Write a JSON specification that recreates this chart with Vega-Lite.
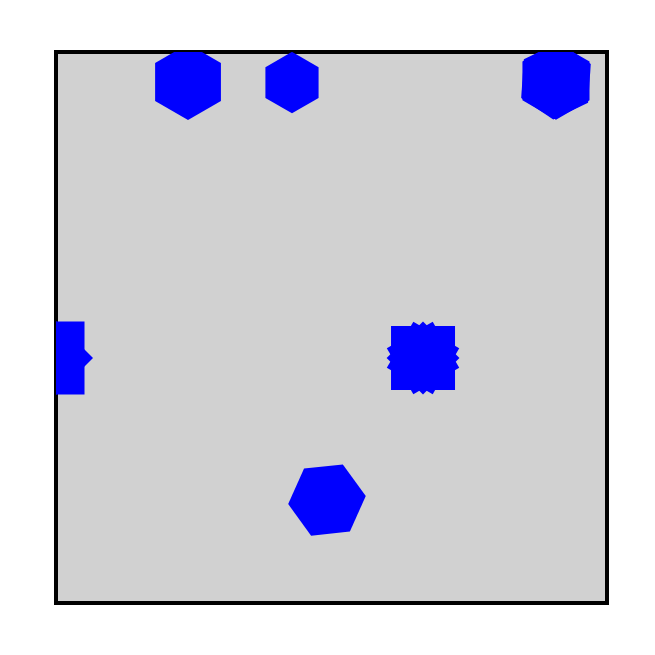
{
  "$schema": "https://vega.github.io/schema/vega-lite/v6.json",
  "width": 551,
  "height": 551,
  "autosize": {"type": "none"},
  "padding": {"left": 56, "top": 52, "right": 48, "bottom": 52},
  "background": "white",
  "config": {"view": {"stroke": "black", "strokeWidth": 4, "fill": "#d1d1d1"}},
  "data": {"values": [
    {"x": 0.2396, "y": 0.9456, "kind": "hexagon", "magnitude": 5776, "rotation": 0},
    {"x": 0.4283, "y": 0.9446, "kind": "hexagon", "magnitude": 3770, "rotation": 0},
    {"x": 0.9074, "y": 0.9474, "kind": "hexagon", "magnitude": 6000, "rotation": 0},
    {"x": 0.9074, "y": 0.9474, "kind": "hexagon", "magnitude": 6000, "rotation": 4},
    {"x": -0.0145, "y": 0.4446, "kind": "square", "magnitude": 5329, "rotation": 0},
    {"x": -0.0145, "y": 0.4446, "kind": "diamond", "magnitude": 8100, "rotation": 0},
    {"x": 0.6661, "y": 0.4446, "kind": "square", "magnitude": 4096, "rotation": 0},
    {"x": 0.6661, "y": 0.4446, "kind": "square", "magnitude": 2809, "rotation": 30},
    {"x": 0.6661, "y": 0.4446, "kind": "square", "magnitude": 2809, "rotation": 60},
    {"x": 0.6661, "y": 0.4446, "kind": "square", "magnitude": 2650, "rotation": 45},
    {"x": 0.4918, "y": 0.1869, "kind": "hexagon", "magnitude": 6084, "rotation": 24}
  ]},
  "mark": {"type": "point", "filled": true, "opacity": 1, "clip": true, "color": "#0000ff", "strokeWidth": 0},
  "encoding": {
    "x": {"field": "x", "type": "quantitative", "scale": {"domain": [0, 1], "nice": false, "zero": false}, "axis": null},
    "y": {"field": "y", "type": "quantitative", "scale": {"domain": [0, 1], "nice": false, "zero": false}, "axis": null},
    "shape": {"field": "kind", "type": "nominal", "scale": {"domain": ["hexagon", "square", "diamond"], "range": ["M0,-1L0.866,-0.5L0.866,0.5L0,1L-0.866,0.5L-0.866,-0.5Z", "square", "diamond"]}, "legend": null},
    "size": {"field": "magnitude", "type": "quantitative", "scale": {"domain": [0, 10000], "range": [0, 10000], "zero": true}, "legend": null},
    "angle": {"field": "rotation", "type": "quantitative", "scale": {"domain": [0, 360], "range": [0, 360]}}
  }
}
